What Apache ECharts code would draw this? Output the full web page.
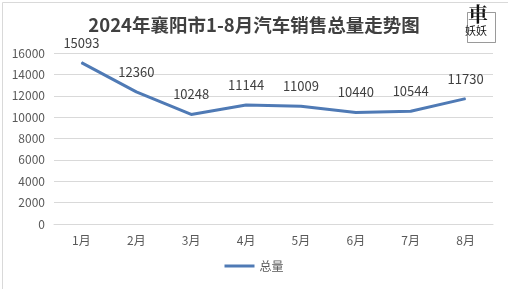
<!DOCTYPE html>
<html><head><meta charset="utf-8">
<script src="https://cdn.jsdelivr.net/npm/echarts@6/dist/echarts.min.js"></script>
<style>html,body{margin:0;padding:0;background:#fff}#c{width:508px;height:289px}</style>
</head><body><div id="c"></div>
<script>
var categories = ['1月','2月','3月','4月','5月','6月','7月','8月'];
var totals = [15093, 12360, 10248, 11144, 11009, 10440, 10544, 11730];
var seriesName = '总量';
var titleText = '2024年襄阳市1-8月汽车销售总量走势图';
var chart = echarts.init(document.getElementById('c'));
var font = '"Microsoft YaHei","Noto Sans CJK SC",sans-serif';
chart.setOption({
  backgroundColor: '#fff',
  animation: false,
  title: {text: titleText, left: 'center', top: 11,
    textStyle: {fontFamily: font, fontSize: 18.5, fontWeight: 'bold', color: '#404040'}},
  graphic: [
    {type: 'rect', left: 0, top: 0, shape: {width: 507, height: 288}, style: {fill: 'none', stroke: '#d9d9d9', lineWidth: 1}, silent: true},
    {type: 'text', left: 468, top: 4, style: {text: '車', font: 'bold 20px "Noto Serif CJK SC","Noto Sans CJK SC",serif', fill: '#111'}},
    {type: 'text', left: 465, top: 25, style: {text: '妖妖', font: '11px "Noto Sans CJK SC",serif', fill: '#111'}},
    {type: 'rect', left: 465, top: 10, shape: {width: 28, height: 30}, style: {fill: 'none', stroke: '#555', lineWidth: 0.6}}
  ],
  legend: {bottom: 12, left: 'center', itemWidth: 30, itemHeight: 3, icon: 'rect',
    textStyle: {fontFamily: font, fontSize: 12, color: '#595959'}, data: [seriesName]},
  grid: {left: 54, right: 15, top: 53, bottom: 65},
  xAxis: {type: 'category', data: categories, boundaryGap: true,
    axisLine: {lineStyle: {color: '#d9d9d9'}}, axisTick: {show: false},
    axisLabel: {color: '#595959', fontFamily: font, fontSize: 12, margin: 10}},
  yAxis: {type: 'value', min: 0, max: 16000, interval: 2000,
    axisLine: {show: false}, axisTick: {show: false},
    splitLine: {lineStyle: {color: '#d9d9d9'}},
    axisLabel: {color: '#595959', fontFamily: font, fontSize: 12, margin: 9,
      formatter: function (v) { return String(v); }}},
  series: [{name: seriesName, type: 'line', data: totals, symbol: 'circle', symbolSize: 1, showSymbol: true,
    lineStyle: {color: '#4f7ab5', width: 3}, itemStyle: {color: '#4f7ab5'},
    label: {show: true, position: 'top', distance: 13, color: '#404040', fontFamily: font, fontSize: 13}}]
});
</script></body></html>
